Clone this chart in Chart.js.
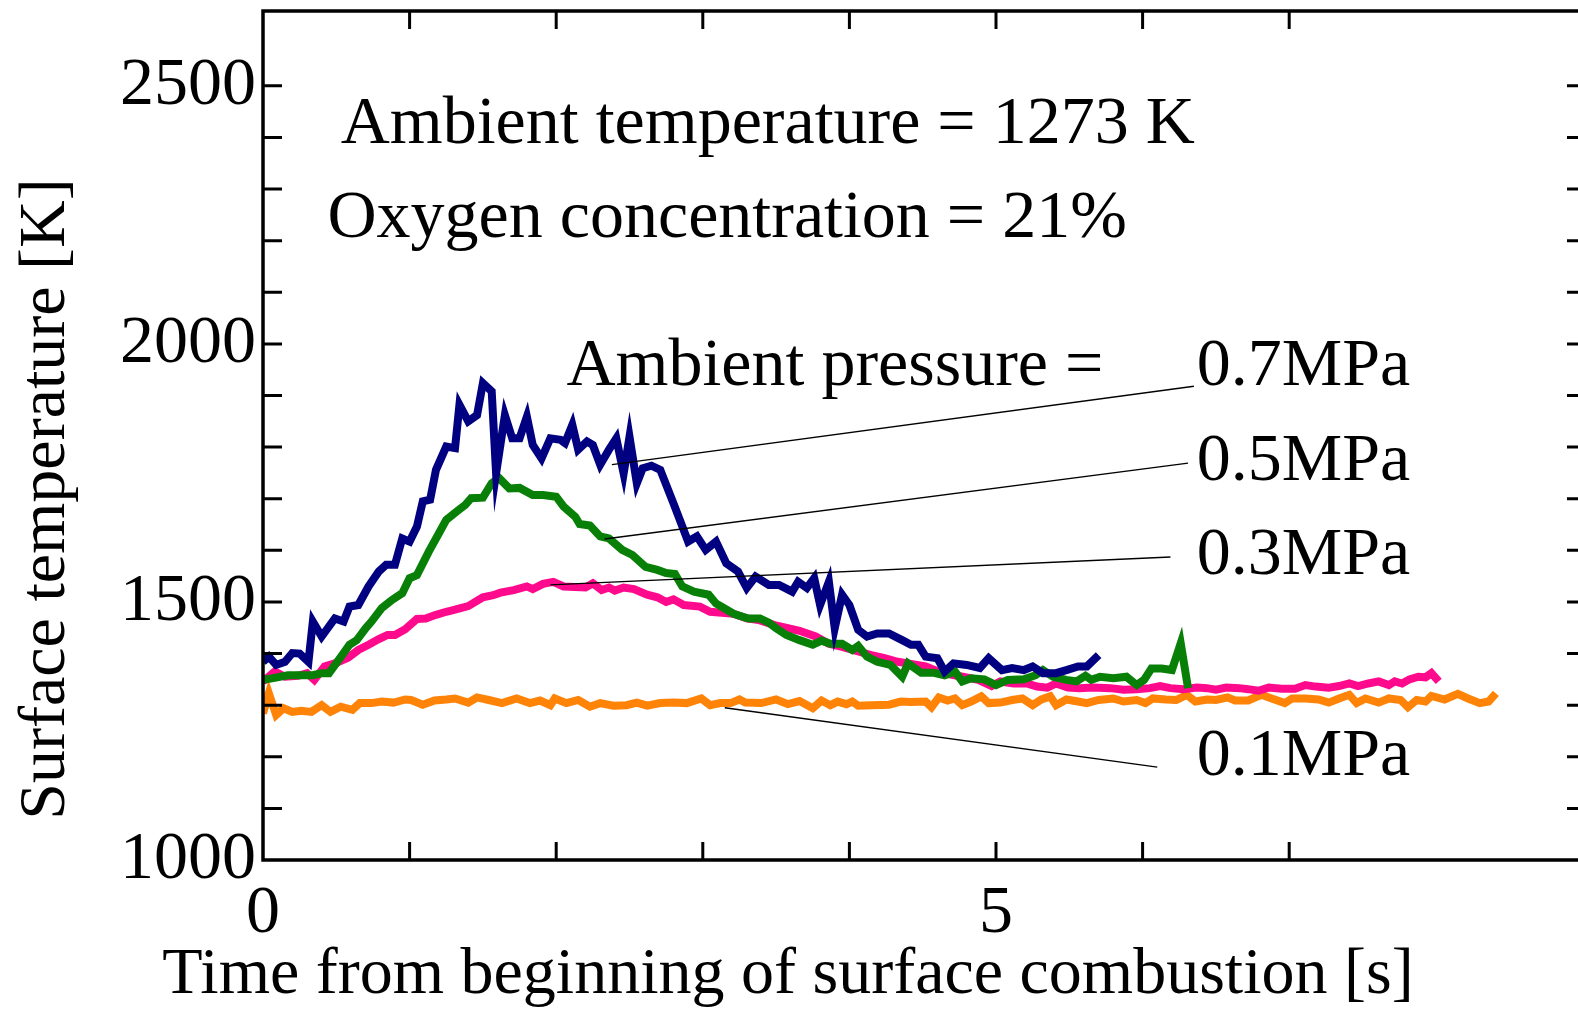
<!DOCTYPE html>
<html>
<head>
<meta charset="utf-8">
<script src="https://cdn.jsdelivr.net/npm/chart.js@4.4.1/dist/chart.umd.min.js"></script>
<style>
  html, body { margin: 0; padding: 0; background: #fff; }
  #wrap { width: 1578px; height: 1009px; position: relative; }
</style>
</head>
<body>
<div id="wrap"><canvas id="chart"></canvas></div>
<script>
// surface temperature records, time [s] / temperature [K]
var t07 = [0, 0.04, 0.09, 0.15, 0.20, 0.25, 0.31, 0.34, 0.40, 0.49, 0.55, 0.59, 0.65, 0.72, 0.79, 0.84, 0.90, 0.95, 1.00, 1.05,
    1.09, 1.14, 1.18, 1.25, 1.31, 1.34, 1.40, 1.46, 1.50, 1.56, 1.59, 1.65, 1.70, 1.75, 1.80, 1.84, 1.90, 1.96, 2.03, 2.06,
    2.11, 2.15, 2.21, 2.25, 2.30, 2.36, 2.41, 2.46, 2.50, 2.55, 2.59, 2.65, 2.71, 2.80, 2.90, 2.96, 3.02, 3.09, 3.16, 3.24,
    3.30, 3.36, 3.45, 3.52, 3.61, 3.65, 3.71, 3.76, 3.80, 3.86, 3.90, 3.95, 4.00, 4.06, 4.12, 4.19, 4.27, 4.36, 4.42, 4.47,
    4.52, 4.60, 4.65, 4.71, 4.80, 4.89, 4.95, 5.04, 5.11, 5.19, 5.25, 5.32, 5.41, 5.48, 5.56, 5.62, 5.70];
var T07 = [1384, 1394, 1378, 1384, 1401, 1400, 1384, 1462, 1433, 1468, 1462, 1491, 1494, 1530, 1559, 1572, 1572, 1623, 1617, 1646,
    1695, 1698, 1756, 1801, 1798, 1882, 1850, 1862, 1924, 1908, 1749, 1862, 1817, 1817, 1859, 1804, 1778, 1817, 1814, 1808,
    1843, 1795, 1811, 1804, 1766, 1795, 1817, 1749, 1820, 1730, 1759, 1764, 1756, 1691, 1617, 1627, 1601, 1617, 1575, 1559,
    1527, 1549, 1533, 1533, 1520, 1539, 1527, 1546, 1494, 1539, 1449, 1514, 1494, 1446, 1433, 1439, 1439, 1426, 1417, 1417,
    1394, 1391, 1365, 1381, 1378, 1372, 1391, 1368, 1372, 1368, 1375, 1362, 1362, 1368, 1375, 1375, 1397];

var t05 = [0, 0.06, 0.17, 0.26, 0.34, 0.40, 0.45, 0.54, 0.59, 0.64, 0.70, 0.74, 0.81, 0.88, 0.95, 1.00, 1.05, 1.13, 1.20, 1.25,
    1.32, 1.38, 1.42, 1.50, 1.56, 1.61, 1.68, 1.75, 1.84, 1.91, 2.00, 2.05, 2.13, 2.16, 2.23, 2.30, 2.36, 2.45, 2.52, 2.61,
    2.69, 2.75, 2.81, 2.86, 2.94, 3.04, 3.09, 3.21, 3.31, 3.39, 3.45, 3.50, 3.57, 3.66, 3.75, 3.81, 3.87, 3.95, 4.02, 4.06,
    4.12, 4.19, 4.28, 4.36, 4.40, 4.49, 4.57, 4.65, 4.72, 4.77, 4.83, 4.92, 5.00, 5.08, 5.19, 5.27, 5.32, 5.39, 5.48, 5.55,
    5.61, 5.65, 5.71, 5.80, 5.89, 5.96, 6.01, 6.06, 6.13, 6.20, 6.26, 6.31];
var T05 = [1349, 1352, 1358, 1358, 1358, 1362, 1362, 1397, 1417, 1426, 1449, 1462, 1488, 1504, 1517, 1546, 1552, 1597, 1633, 1659,
    1675, 1688, 1701, 1702, 1730, 1740, 1720, 1721, 1707, 1707, 1704, 1685, 1665, 1651, 1648, 1627, 1623, 1601, 1591, 1568,
    1562, 1556, 1554, 1530, 1520, 1514, 1497, 1477, 1468, 1468, 1460, 1449, 1436, 1426, 1417, 1425, 1419, 1419, 1407, 1415,
    1394, 1384, 1378, 1355, 1381, 1363, 1363, 1358, 1365, 1346, 1352, 1350, 1339, 1349, 1350, 1358, 1368, 1355, 1349, 1346,
    1357, 1349, 1355, 1352, 1355, 1339, 1349, 1371, 1371, 1368, 1420, 1333];

var t03 = [0, 0.08, 0.15, 0.24, 0.30, 0.35, 0.42, 0.49, 0.58, 0.65, 0.72, 0.79, 0.85, 0.90, 0.97, 1.05, 1.11, 1.18, 1.25, 1.31,
    1.40, 1.50, 1.57, 1.62, 1.71, 1.80, 1.84, 1.91, 1.98, 2.05, 2.20, 2.25, 2.31, 2.36, 2.40, 2.46, 2.53, 2.62, 2.69, 2.75,
    2.80, 2.87, 2.98, 3.05, 3.13, 3.21, 3.30, 3.38, 3.49, 3.58, 3.66, 3.77, 3.86, 3.95, 4.06, 4.15, 4.24, 4.33, 4.42, 4.52,
    4.61, 4.70, 4.79, 4.88, 4.97, 5.03, 5.12, 5.21, 5.28, 5.35, 5.41, 5.49, 5.57, 5.66, 5.78, 5.87, 5.96, 6.05, 6.12, 6.19,
    6.28, 6.37, 6.44, 6.50, 6.57, 6.66, 6.72, 6.79, 6.86, 6.95, 7.04, 7.11, 7.18, 7.27, 7.34, 7.41, 7.47, 7.54, 7.61, 7.68,
    7.72, 7.77, 7.82, 7.88, 7.93, 7.97, 8.02];
var T03 = [1346, 1365, 1355, 1357, 1362, 1349, 1375, 1381, 1392, 1407, 1417, 1428, 1436, 1436, 1447, 1467, 1468, 1475, 1481, 1485,
    1492, 1509, 1513, 1518, 1523, 1530, 1525, 1535, 1539, 1530, 1528, 1536, 1523, 1528, 1522, 1528, 1525, 1514, 1509, 1500,
    1505, 1494, 1491, 1481, 1479, 1477, 1468, 1465, 1455, 1449, 1444, 1433, 1419, 1413, 1404, 1397, 1391, 1384, 1380, 1375,
    1365, 1359, 1354, 1349, 1337, 1346, 1342, 1342, 1336, 1334, 1342, 1334, 1333, 1334, 1333, 1330, 1331, 1333, 1337, 1333,
    1331, 1334, 1333, 1330, 1334, 1333, 1331, 1328, 1334, 1332, 1332, 1339, 1336, 1334, 1337, 1342, 1337, 1342, 1346, 1339,
    1346, 1342, 1350, 1355, 1354, 1362, 1346];

var t01 = [0, 0.04, 0.09, 0.14, 0.20, 0.26, 0.33, 0.40, 0.46, 0.53, 0.61, 0.66, 0.74, 0.81, 0.89, 0.97, 1.01, 1.09, 1.17, 1.25,
    1.31, 1.40, 1.46, 1.54, 1.63, 1.73, 1.82, 1.89, 1.96, 1.99, 2.07, 2.15, 2.23, 2.30, 2.39, 2.48, 2.55, 2.62, 2.71, 2.80,
    2.89, 2.99, 3.05, 3.12, 3.19, 3.25, 3.29, 3.40, 3.50, 3.58, 3.66, 3.75, 3.81, 3.87, 3.92, 3.98, 4.02, 4.06, 4.15, 4.27,
    4.35, 4.42, 4.52, 4.56, 4.61, 4.67, 4.72, 4.77, 4.83, 4.90, 4.95, 5.03, 5.11, 5.18, 5.25, 5.31, 5.37, 5.41, 5.48, 5.56,
    5.62, 5.70, 5.80, 5.87, 5.96, 6.02, 6.07, 6.16, 6.23, 6.30, 6.36, 6.44, 6.50, 6.58, 6.63, 6.72, 6.81, 6.88, 6.97, 7.02,
    7.11, 7.20, 7.27, 7.34, 7.41, 7.46, 7.52, 7.61, 7.68, 7.76, 7.81, 7.87, 7.93, 7.97, 8.06, 8.15, 8.22, 8.30, 8.36, 8.41];
var T01 = [1284, 1323, 1281, 1294, 1287, 1289, 1287, 1300, 1287, 1297, 1291, 1304, 1304, 1307, 1305, 1311, 1310, 1301, 1309, 1311,
    1313, 1305, 1315, 1310, 1304, 1313, 1304, 1309, 1300, 1313, 1304, 1310, 1297, 1304, 1299, 1300, 1305, 1299, 1304, 1305,
    1304, 1313, 1300, 1304, 1304, 1311, 1305, 1304, 1311, 1302, 1308, 1294, 1309, 1300, 1307, 1302, 1307, 1299, 1300, 1301,
    1307, 1306, 1307, 1296, 1315, 1309, 1313, 1300, 1307, 1317, 1304, 1305, 1310, 1313, 1300, 1311, 1317, 1300, 1311, 1307,
    1304, 1310, 1313, 1307, 1310, 1304, 1313, 1311, 1310, 1320, 1307, 1311, 1310, 1315, 1309, 1309, 1320, 1313, 1304, 1313,
    1313, 1311, 1305, 1313, 1320, 1304, 1313, 1305, 1313, 1310, 1296, 1310, 1307, 1318, 1311, 1322, 1313, 1304, 1307, 1323];

var pressures = ['0.7MPa', '0.5MPa', '0.3MPa', '0.1MPa'];
var colors = ['#000080', '#088008', '#ff0a8c', '#ff8306'];

// labels with leader lines, in axis units (s, K)
var callouts = [
    { text: '0.7MPa', at: [6.37, 1920], from: [6.35, 1918], to: [2.38, 1766] },
    { text: '0.5MPa', at: [6.37, 1736], from: [6.31, 1769], to: [2.33, 1622] },
    { text: '0.3MPa', at: [6.37, 1554], from: [6.19, 1587], to: [1.96, 1533] },
    { text: '0.1MPa', at: [6.37, 1165], from: [6.10, 1180], to: [3.15, 1295] }
];
var notes = [
    { text: 'Ambient temperature = 1273 K', at: [0.53, 2389] },
    { text: 'Oxygen concentration = 21%', at: [0.44, 2207] },
    { text: 'Ambient pressure =', at: [2.07, 1920] }
];

var serif = '"Liberation Serif", "Times New Roman", serif';

function pts(xs, ys) {
    return xs.map(function (x, i) { return { x: x, y: ys[i] }; });
}

function series(i, xs, ys) {
    return {
        label: pressures[i],
        data: pts(xs, ys),
        showLine: true,
        borderColor: colors[i],
        backgroundColor: colors[i],
        borderWidth: 8,
        pointRadius: 0,
        tension: 0,
        fill: false
    };
}

// box frame with inward tick marks, callouts, axis titles
var decor = {
    id: 'decor',
    afterDatasetsDraw: function (chart) {
        var ctx = chart.ctx;
        var a = chart.chartArea;
        var xs = chart.scales.x, ys = chart.scales.y;
        ctx.save();

        // leader lines
        ctx.strokeStyle = '#000';
        ctx.lineWidth = 1.4;
        callouts.forEach(function (c) {
            ctx.beginPath();
            ctx.moveTo(xs.getPixelForValue(c.from[0]), ys.getPixelForValue(c.from[1]));
            ctx.lineTo(xs.getPixelForValue(c.to[0]), ys.getPixelForValue(c.to[1]));
            ctx.stroke();
        });

        ctx.fillStyle = '#000';
        ctx.font = '68px ' + serif;
        ctx.textAlign = 'left';
        ctx.textBaseline = 'alphabetic';
        notes.concat(callouts).forEach(function (n) {
            ctx.fillText(n.text, xs.getPixelForValue(n.at[0]), ys.getPixelForValue(n.at[1]));
        });

        // frame: left, bottom, top (right edge lies just outside the canvas)
        ctx.lineWidth = 3.5;
        ctx.lineCap = 'square';
        ctx.beginPath();
        ctx.moveTo(a.right, a.top);
        ctx.lineTo(a.left, a.top);
        ctx.lineTo(a.left, a.bottom);
        ctx.lineTo(a.right, a.bottom);
        ctx.stroke();

        ctx.lineWidth = 3;
        ctx.lineCap = 'butt';
        ctx.beginPath();
        xs.ticks.forEach(function (t) {
            if (Math.abs(t.value - Math.round(t.value)) > 1e-6 || t.value === 0) return;
            var px = xs.getPixelForValue(t.value);
            ctx.moveTo(px, a.bottom);
            ctx.lineTo(px, a.bottom - 18);
            ctx.moveTo(px, a.top);
            ctx.lineTo(px, a.top + 18);
        });
        ys.ticks.forEach(function (t) {
            if (t.value % 100 !== 0 || t.value === ys.min) return;
            var py = ys.getPixelForValue(t.value);
            ctx.moveTo(a.left, py);
            ctx.lineTo(a.left + 19, py);
            ctx.moveTo(a.right, py);
            ctx.lineTo(a.right - 11, py);
        });
        ctx.stroke();

        // axis titles
        ctx.font = '66px ' + serif;
        ctx.textAlign = 'center';
        ctx.fillText('Time from beginning of surface combustion [s]', 788, 993);
        ctx.translate(64, 499);
        ctx.rotate(-Math.PI / 2);
        ctx.fillText('Surface temperature [K]', 0, 0);
        ctx.restore();
    }
};

new Chart(document.getElementById('chart'), {
    type: 'scatter',
    data: {
        datasets: [
            series(0, t07, T07),
            series(1, t05, T05),
            series(2, t03, T03),
            series(3, t01, T01)
        ]
    },
    plugins: [decor],
    options: {
        responsive: true,
        maintainAspectRatio: false,
        animation: false,
        devicePixelRatio: 1,
        layout: { padding: { top: 11, right: 0, bottom: 0, left: 0 } },
        plugins: {
            legend: { display: false },
            tooltip: { enabled: false }
        },
        scales: {
            x: {
                type: 'linear',
                min: 0,
                max: 8.97,
                afterFit: function (s) {
                    s.height = 149;
                    s.paddingLeft = 0;
                    s.paddingRight = 0;
                },
                border: { display: false },
                grid: { display: false, drawTicks: false },
                ticks: {
                    stepSize: 1,
                    autoSkip: false,
                    maxRotation: 0,
                    padding: 13,
                    color: '#000',
                    font: { family: serif, size: 68 },
                    callback: function (v) { return (v === 0 || v === 5) ? String(v) : ''; }
                }
            },
            y: {
                type: 'linear',
                min: 1000,
                max: 2645,
                afterFit: function (s) {
                    s.width = 263;
                    s.paddingTop = 0;
                    s.paddingBottom = 0;
                },
                border: { display: false },
                grid: { display: false, drawTicks: false },
                ticks: {
                    stepSize: 100,
                    autoSkip: false,
                    padding: 7,
                    color: '#000',
                    font: { family: serif, size: 68 },
                    callback: function (v) { return v % 500 === 0 ? String(v) : ''; }
                }
            }
        }
    }
});
</script>
</body>
</html>
